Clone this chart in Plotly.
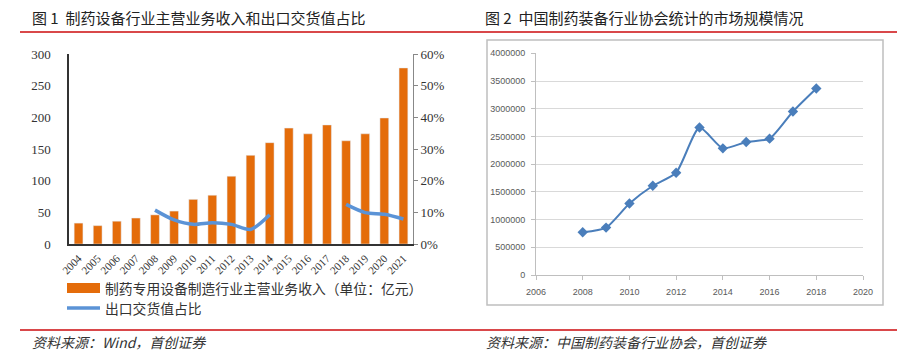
import plotly.graph_objects as go

W, H = 897, 361

# ---------------- data ----------------
years1 = [str(y) for y in range(2004, 2022)]
revenue = [33, 29, 36, 41, 46, 52, 70.5, 77, 107, 140, 160, 183, 174, 188, 163, 174, 199, 278]
export_share = [None, None, None, None, 10.7, 7.6, 6.2, 6.7, 6.2, 4.6, 9.2,
                None, None, None, 12.5, 9.9, 9.4, 7.9]

years2 = [2008, 2009, 2010, 2011, 2012, 2013, 2014, 2015, 2016, 2017, 2018]
market = [770000, 855000, 1290000, 1610000, 1845000, 2660000, 2285000, 2400000, 2460000, 2950000, 3365000]

title1 = "图 1  制药设备行业主营业务收入和出口交货值占比"
title2 = "图 2  中国制药装备行业协会统计的市场规模情况"
legend1 = "制药专用设备制造行业主营业务收入（单位：亿元）"
legend2 = "出口交货值占比"
source1 = "资料来源：Wind，首创证券"
source2 = "资料来源：中国制药装备行业协会，首创证券"


def xp(x):
    return x / W


def yp(y):
    return 1 - y / H


ORANGE = "#E46C0A"
BLUE_L = "#5B93D6"
BLUE_R = "#4A7EBB"
RED = "#D9484A"
CJK = "Noto Sans CJK SC"
SERIF = "Liberation Serif"

fig = go.Figure()

fig.add_trace(go.Bar(x=years1, y=revenue, marker_color=ORANGE, width=0.46,
                     xaxis="x", yaxis="y", showlegend=False))
fig.add_trace(go.Scatter(x=years1, y=export_share, mode="lines",
                         line=dict(color=BLUE_L, width=3.5, shape="spline", smoothing=0.8),
                         connectgaps=False, xaxis="x", yaxis="y2", showlegend=False))
fig.add_trace(go.Scatter(x=years2, y=market, mode="lines+markers",
                         line=dict(color=BLUE_R, width=2, shape="spline", smoothing=0.6),
                         marker=dict(symbol="diamond", size=8, color=BLUE_R),
                         xaxis="x2", yaxis="y3", showlegend=False))

fig.update_layout(
    width=W, height=H, autosize=False,
    margin=dict(l=0, r=0, t=0, b=0, autoexpand=False),
    paper_bgcolor="white", plot_bgcolor="white",
    bargap=0.5,
    xaxis=dict(domain=[xp(69), xp(413)], type="category", range=[-0.5, 17.5],
               tickangle=-45, tickfont=dict(family=SERIF, size=11, color="#333"),
               showline=True, linecolor="#333", linewidth=1.5, ticks="", showgrid=False,
               anchor="y", ticklabelstandoff=2, automargin=False),
    yaxis=dict(domain=[yp(244), yp(54)], range=[0, 300], dtick=50,
               tickfont=dict(family=SERIF, size=13, color="#333"),
               showline=True, linecolor="#333", linewidth=1.5, showgrid=False,
               zeroline=False, ticks="", ticklabelstandoff=14, anchor="x", automargin=False),
    yaxis2=dict(overlaying="y", side="right", range=[0, 60], dtick=10, ticksuffix="%",
                tickfont=dict(family=SERIF, size=13, color="#333"),
                showline=True, linecolor="#888", linewidth=1, showgrid=False,
                zeroline=False, ticks="outside", ticklen=4, tickcolor="#888",
                anchor="x", automargin=False),
    xaxis2=dict(domain=[xp(536), xp(863)], range=[2006, 2020], dtick=2,
                tickfont=dict(family="Liberation Sans", size=9, color="#595959"),
                showline=True, linecolor="#bfbfbf", linewidth=1, showgrid=False,
                ticks="outside", ticklen=4, tickcolor="#bfbfbf", zeroline=False,
                anchor="y3", ticklabelstandoff=4, automargin=False),
    yaxis3=dict(domain=[yp(275), yp(53.3)], range=[0, 4000000], dtick=500000,
                tickfont=dict(family="Liberation Sans", size=9, color="#595959"),
                showline=True, linecolor="#bfbfbf", linewidth=1, showgrid=True,
                gridcolor="#d9d9d9", gridwidth=1, zeroline=False,
                ticks="outside", ticklen=4, tickcolor="#bfbfbf",
                tickformat="d", anchor="x2", ticklabelstandoff=4, automargin=False),
)

shapes = [
    # red rules
    dict(type="line", xref="paper", yref="paper", x0=xp(20), x1=xp(897), y0=yp(32), y1=yp(32),
         line=dict(color=RED, width=2)),
    dict(type="line", xref="paper", yref="paper", x0=xp(20), x1=xp(897), y0=yp(330), y1=yp(330),
         line=dict(color=RED, width=2)),
    # right chart frame
    dict(type="rect", xref="paper", yref="paper", x0=xp(487), x1=xp(883), y0=yp(305), y1=yp(40),
         line=dict(color="#bfbfbf", width=1.5)),
    # legend swatches
    dict(type="rect", xref="paper", yref="paper", x0=xp(67), x1=xp(100), y0=yp(293), y1=yp(283),
         line=dict(width=0), fillcolor=ORANGE),
    dict(type="line", xref="paper", yref="paper", x0=xp(67), x1=xp(100), y0=yp(308), y1=yp(308),
         line=dict(color=BLUE_L, width=3.5)),
]

annotations = [
    dict(text=title1, x=xp(30), y=yp(18), xref="paper", yref="paper", xanchor="left",
         yanchor="middle", showarrow=False, font=dict(family=CJK, size=15, color="#222")),
    dict(text=title2, x=xp(483), y=yp(18), xref="paper", yref="paper", xanchor="left",
         yanchor="middle", showarrow=False, font=dict(family=CJK, size=15, color="#222")),
    dict(text=legend1, x=xp(103), y=yp(288), xref="paper", yref="paper", xanchor="left",
         yanchor="middle", showarrow=False, font=dict(family=CJK, size=13.8, color="#333")),
    dict(text=legend2, x=xp(103), y=yp(308), xref="paper", yref="paper", xanchor="left",
         yanchor="middle", showarrow=False, font=dict(family=CJK, size=13.8, color="#333")),
    dict(text="<i>" + source1 + "</i>", x=xp(30), y=yp(342), xref="paper", yref="paper",
         xanchor="left", yanchor="middle", showarrow=False,
         font=dict(family=CJK, size=14, color="#333")),
    dict(text="<i>" + source2 + "</i>", x=xp(484), y=yp(342), xref="paper", yref="paper",
         xanchor="left", yanchor="middle", showarrow=False,
         font=dict(family=CJK, size=14, color="#333")),
]

fig.update_layout(shapes=shapes, annotations=annotations)
fig.write_html("out.html",
               config={"displayModeBar": False},
               post_script="document.body.style.margin='0';document.body.style.overflow='hidden';")
